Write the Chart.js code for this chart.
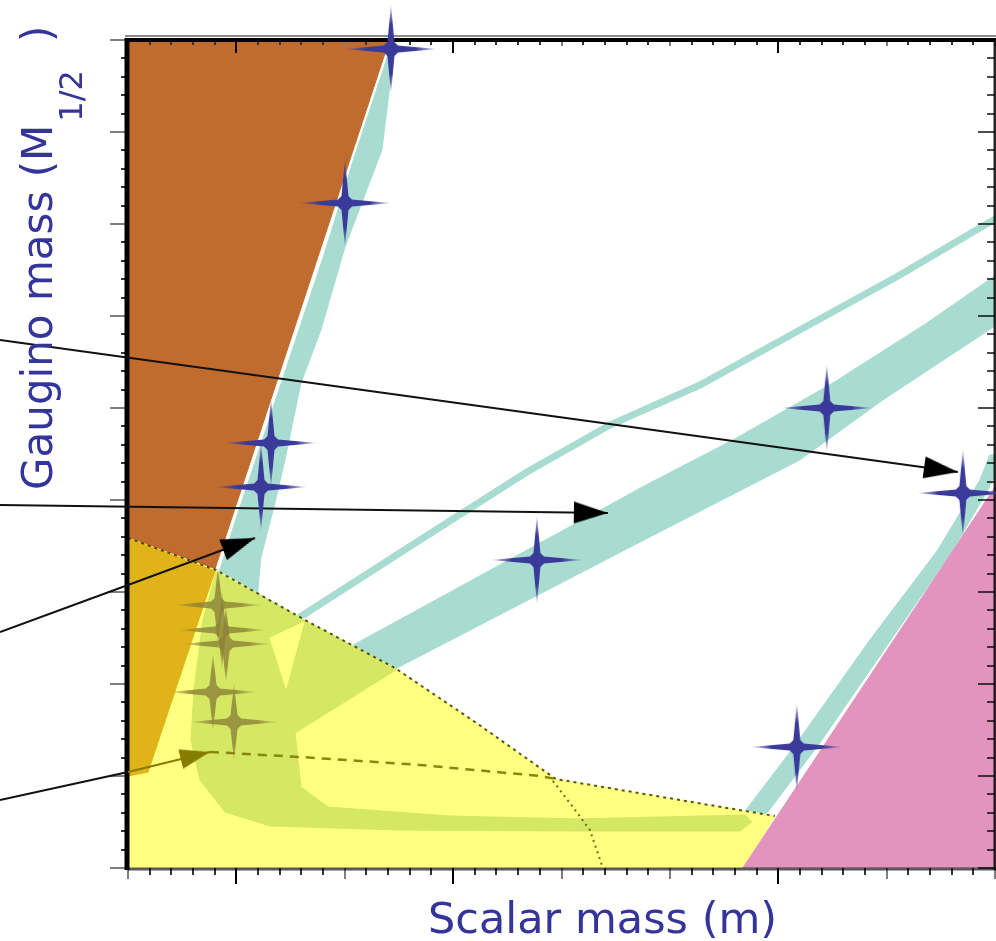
<!DOCTYPE html>
<html>
<head>
<meta charset="utf-8">
<script src="https://cdn.jsdelivr.net/npm/chart.js@4.4.1/dist/chart.umd.min.js"></script>
<style>
  html, body { margin: 0; padding: 0; background: #fff; }
  #wrap { position: relative; width: 996px; height: 941px; overflow: hidden; }
</style>
</head>
<body>
<div id="wrap"><canvas id="chart"></canvas></div>
<script>
// axis ranges (schematic plot, the axes carry no numbers)
var xRange = [0, 80];
var yRange = [0, 90];
var xLongTicks = [10, 30, 60];
var xTitle = 'Scalar mass (m)';
var yTitle = ['Gaugino mass (M', '1/2', ')'];

// regions, outlines as [x, y]
var brownRegion  = [[0, 91], [24.4, 91], [1.85, 10.43], [0, 10.0]];
var yellowRegion = [[0, 35.87], [8.12, 32.39], [16.33, 26.96], [24.63, 21.74], [32.29, 15.65],
                    [39.48, 9.67], [59.69, 5.65], [56.73, 0], [0, 0]];
var orangeRegion = [[0, 35.87], [8.03, 32.28], [1.85, 10.43], [0, 10.0]];
var pinkRegion   = [[56.73, 0], [81, 0], [81, 43.2]];
var greenRegion  = [[8.12, 32.17], [12.36, 29.57], [16.33, 26.85], [21.13, 23.9], [24.82, 21.6],
                    [15.41, 14.67], [15.96, 8.80], [18.45, 6.63], [29.70, 5.65], [41.51, 5.33],
                    [56.92, 5.76], [57.56, 5.0], [56.46, 4.02], [41.51, 4.02], [25.09, 4.13],
                    [13.10, 4.57], [8.95, 6.09], [6.64, 9.57], [5.81, 13.91], [6.09, 19.35], [6.92, 26.96]];
var yellowHole   = [[13.10, 25.0], [16.24, 26.74], [14.58, 19.57]];

// relic density strips
var tealStrip1 = [[24.54, 88.70], [23.43, 78.04], [20.02, 67.50], [17.80, 58.48], [15.96, 52.72],
                  [14.48, 44.35], [13.56, 39.67], [12.27, 33.80], [11.81, 28.04], [8.03, 30.76],
                  [9.87, 37.61], [11.72, 44.13], [14.39, 53.59], [18.08, 66.63], [20.85, 77.17], [24.08, 88.70]];
var tealLine2  = [[14.02, 25.87], [15.87, 27.28], [26.94, 35.65], [36.81, 43.04], [44.46, 48.15],
                  [52.77, 52.50], [61.99, 58.48], [71.22, 64.46], [79.06, 69.89], [81, 71.2]];
var tealStrip3 = [[18.63, 22.83], [21.13, 24.46], [48.15, 41.85], [55.81, 46.52], [65.04, 52.72],
                  [73.71, 59.24], [81, 65.2], [81, 59.7], [69.65, 50.87], [61.99, 44.35],
                  [48.15, 35.98], [24.82, 21.74], [22.32, 20.22]];
var tealStrip4 = [[56.46, 5.43], [61.71, 13.59], [68.45, 24.78], [74.72, 34.57], [78.60, 42.17],
                  [79.52, 44.89], [81, 44.89], [79.34, 41.09], [76.11, 34.57], [70.39, 24.78],
                  [63.84, 13.59], [59.04, 6.09], [57.56, 5.0]];

// contour lines
var boundaryLine = [[0, 35.87], [8.12, 32.39], [16.33, 26.96], [24.63, 21.74], [32.29, 15.65],
                    [39.48, 9.67], [59.69, 5.65]];
var dashedLine   = [[7.56, 12.61], [15.87, 12.07], [26.94, 11.20], [38.01, 10.0], [39.48, 9.67]];
var dottedCurve  = [[39.21, 9.46], [41.05, 6.63], [42.62, 4.13], [43.82, 0]];

// arrows (start outside the frame on the left)
var arrow1 = [[-11.81, 57.39], [76.57, 43.04]];
var arrow2 = [[-11.81, 39.46], [44.28, 38.59]];
var arrow3 = [[-11.81, 25.65], [0, 30.76], [11.72, 35.87]];
var arrow4 = [[-11.81, 7.39], [0, 10.43], [7.56, 12.61]];

// benchmark points
var blueStars  = [[24.26, 89.02], [20.02, 72.28], [13.19, 46.20], [12.27, 41.41], [37.73, 33.48],
                  [64.48, 50.0], [77.03, 40.76], [61.71, 13.15]];
var oliveStars = [[8.30, 28.59], [8.67, 25.87], [9.04, 24.35], [7.84, 19.13], [9.78, 15.87]];

var teal = '#a8dcd0';
var olive = '#857c00';
var titleColor = '#34349a';

function toXY(arr) { return arr.map(function (p) { return { x: p[0], y: p[1] }; }); }
function closed(arr) { return toXY(arr.concat([arr[0]])); }

function makeStar(rgb, hx, hy, a0, a1) {
  var c = document.createElement('canvas');
  c.width = 2 * hx + 4; c.height = 2 * hy + 4;
  var g = c.getContext('2d'), cx = c.width / 2, cy = c.height / 2;
  var gr = g.createRadialGradient(cx, cy, 0, cx, cy, Math.max(hx, hy));
  gr.addColorStop(0, 'rgba(' + rgb + ',' + a0 + ')');
  gr.addColorStop(0.55, 'rgba(' + rgb + ',' + a0 + ')');
  gr.addColorStop(1, 'rgba(' + rgb + ',' + a1 + ')');
  g.fillStyle = gr;
  g.beginPath();
  g.moveTo(cx - hx, cy);
  g.lineTo(cx - 7, cy - 3.5); g.lineTo(cx - 3.5, cy - 7);
  g.lineTo(cx, cy - hy);
  g.lineTo(cx + 3.5, cy - 7); g.lineTo(cx + 7, cy - 3.5);
  g.lineTo(cx + hx, cy);
  g.lineTo(cx + 7, cy + 3.5); g.lineTo(cx + 3.5, cy + 7);
  g.lineTo(cx, cy + hy);
  g.lineTo(cx - 3.5, cy + 7); g.lineTo(cx - 7, cy + 3.5);
  g.closePath();
  g.fill();
  return c;
}

function makeHead(color, len, wid) {
  var c = document.createElement('canvas');
  c.width = 2 * len; c.height = wid;
  var g = c.getContext('2d');
  g.fillStyle = color;
  g.beginPath();
  g.moveTo(0, 0); g.lineTo(len, wid / 2); g.lineTo(0, wid);
  g.closePath();
  g.fill();
  return c;
}

var blueStar = makeStar('58,58,154', 46, 44, 1, 0.15);
var oliveStar = makeStar('140,128,55', 44, 38, 0.8, 0.1);
var blackHead = makeHead('#000', 34, 22);
var oliveHead = makeHead(olive, 30, 20);

function headRadius(ctx) {
  return ctx.dataIndex === ctx.dataset.data.length - 1 ? 5 : 0;
}
function headAngle(ctx) {
  var d = ctx.dataset.data, i = ctx.dataIndex;
  if (ctx.type !== 'data' || i === 0) return 0;
  var xs = ctx.chart.scales.x, ys = ctx.chart.scales.y;
  var dx = xs.getPixelForValue(d[i].x) - xs.getPixelForValue(d[i - 1].x);
  var dy = ys.getPixelForValue(d[i].y) - ys.getPixelForValue(d[i - 1].y);
  return Math.atan2(dy, dx) * 180 / Math.PI;
}

function region(label, pts, color, order) {
  return { label: label, data: closed(pts), backgroundColor: color, borderColor: color,
           borderWidth: 1, fill: 'shape', pointRadius: 0, order: order, clip: 0 };
}
function line(label, pts, color, width, dash, order) {
  return { label: label, data: toXY(pts), borderColor: color, borderWidth: width,
           borderDash: dash, fill: false, pointRadius: 0, order: order, clip: 0 };
}
function arrow(label, pts, head) {
  return { label: label, data: toXY(pts), borderColor: '#111', borderWidth: 2, fill: false,
           pointStyle: head, pointRadius: headRadius, pointRotation: headAngle,
           order: 30, clip: false };
}

var datasets = [
  region('strip 1', tealStrip1, teal, 100),
  line('strip 2', tealLine2, teal, 7, [], 99),
  region('strip 3', tealStrip3, teal, 98),
  region('strip 4', tealStrip4, teal, 97),
  region('brown', brownRegion, '#c06c2e', 90),
  region('yellow', yellowRegion, '#ffff80', 80),
  region('overlap', orangeRegion, '#e0b418', 79),
  region('green', greenRegion, '#d4e864', 78),
  region('hole', yellowHole, '#ffff80', 77),
  region('pink', pinkRegion, '#e293be', 70),
  line('boundary', boundaryLine, 'rgba(55,55,20,0.85)', 2, [3, 4], 60),
  line('dashed', dashedLine, '#8c8410', 2.5, [9, 7], 59),
  line('dotted', dottedCurve, '#6d6a1a', 2, [2, 4], 58),
  arrow('arrow 1', arrow1, blackHead),
  arrow('arrow 2', arrow2, blackHead),
  arrow('arrow 3', arrow3, blackHead),
  arrow('arrow 4', arrow4, oliveHead),
  { label: 'olive points', data: toXY(oliveStars), showLine: false, fill: false,
    pointStyle: oliveStar, pointRadius: 6, order: 20, clip: false },
  { label: 'blue points', data: toXY(blueStars), showLine: false, fill: false,
    pointStyle: blueStar, pointRadius: 6, order: 10, clip: false }
];
datasets[12].frameAfter = true;
datasets[16].segment = { borderColor: function (c) { return c.p0DataIndex === 0 ? '#111' : olive; } };

function tickValues(scale) {
  if (scale.ticks && scale.ticks.length > 2) return scale.ticks.map(function (t) { return Math.round(t.value); });
  var v = [];
  for (var i = scale.min; i <= scale.max; i++) v.push(i);
  return v;
}

function drawFrame(chart) {
  var ctx = chart.ctx, a = chart.chartArea, xs = chart.scales.x, ys = chart.scales.y;
  ctx.save();
  ctx.lineWidth = 2;
  tickValues(xs).forEach(function (v) {
    var px = Math.round(xs.getPixelForValue(v));
    var isLong = xLongTicks.indexOf(v) >= 0, isMid = v % 5 === 0;
    ctx.strokeStyle = isLong ? '#000' : (isMid || v % 2 ? '#7d7d7d' : '#333');
    ctx.beginPath();
    ctx.moveTo(px, a.bottom); ctx.lineTo(px, a.bottom + (isLong ? 16 : isMid ? 11 : 7));
    ctx.moveTo(px, a.top); ctx.lineTo(px, a.top + (isLong ? 13 : isMid ? 6 : 5));
    ctx.stroke();
  });
  tickValues(ys).forEach(function (v) {
    var py = Math.round(ys.getPixelForValue(v));
    var isLong = v % 10 === 0, isMid = v % 5 === 0;
    ctx.strokeStyle = isLong ? '#808080' : (isMid ? '#222' : (v % 2 ? '#888' : '#333'));
    ctx.beginPath();
    ctx.moveTo(a.left - 2, py); ctx.lineTo(a.left - (isLong ? 18 : isMid ? 11 : 7), py);
    ctx.stroke();
    ctx.strokeStyle = 'rgba(0,0,0,0.7)';
    ctx.beginPath();
    ctx.moveTo(a.right, py); ctx.lineTo(a.right - (isLong ? 17 : 8), py);
    ctx.stroke();
  });
  ctx.strokeStyle = '#8a8a8a'; ctx.lineWidth = 2;
  ctx.beginPath(); ctx.moveTo(a.left - 3, a.top - 4); ctx.lineTo(a.right + 2, a.top - 4); ctx.stroke();
  ctx.strokeStyle = '#000'; ctx.lineWidth = 4;
  ctx.beginPath(); ctx.moveTo(a.left - 3, a.top); ctx.lineTo(a.right + 2, a.top); ctx.stroke();
  ctx.lineWidth = 5;
  ctx.beginPath(); ctx.moveTo(a.left - 1, a.top - 2); ctx.lineTo(a.left - 1, a.bottom + 2); ctx.stroke();
  ctx.strokeStyle = 'rgba(0,0,0,0.65)'; ctx.lineWidth = 3;
  ctx.beginPath(); ctx.moveTo(a.left, a.bottom + 1); ctx.lineTo(a.right + 2, a.bottom + 1); ctx.stroke();
  ctx.strokeStyle = 'rgba(0,0,0,0.85)';
  ctx.beginPath(); ctx.moveTo(a.right, a.top); ctx.lineTo(a.right, a.bottom + 2); ctx.stroke();
  ctx.restore();
}

function drawTitles(chart) {
  var ctx = chart.ctx;
  ctx.save();
  ctx.fillStyle = titleColor;
  ctx.textBaseline = 'alphabetic';
  ctx.textAlign = 'left';
  ctx.font = '43px "DejaVu Sans"';
  ctx.fillText(xTitle, 428, 933);
  // rotated title, reads upwards from the bottom
  ctx.translate(52, 490);
  ctx.rotate(-Math.PI / 2);
  ctx.font = '42px "DejaVu Sans"';
  ctx.fillText(yTitle[0], 0, 0);
  var w = ctx.measureText(yTitle[0]).width;
  ctx.font = '32px "DejaVu Sans"';
  ctx.fillText(yTitle[1], w + 3, 30);
  ctx.font = '42px "DejaVu Sans"';
  ctx.fillText(yTitle[2], 448, 0);
  ctx.restore();
}

var framePlugin = {
  id: 'frame',
  afterDatasetDraw: function (chart, args) {
    if (chart.data.datasets[args.index].frameAfter) drawFrame(chart);
  },
  afterDraw: drawTitles
};

new Chart(document.getElementById('chart'), {
  type: 'line',
  data: { datasets: datasets },
  plugins: [framePlugin],
  options: {
    responsive: true,
    maintainAspectRatio: false,
    animation: false,
    events: [],
    layout: { autoPadding: false, padding: { left: 128, top: 40, right: 1, bottom: 73 } },
    elements: { line: { tension: 0 }, point: { radius: 0 } },
    scales: {
      x: { type: 'linear', display: false, min: xRange[0], max: xRange[1], ticks: { count: 81 } },
      y: { type: 'linear', display: false, min: yRange[0], max: yRange[1], ticks: { count: 91 } }
    },
    plugins: {
      legend: { display: false },
      tooltip: { enabled: false },
      colors: { enabled: false }
    }
  }
});
</script>
</body>
</html>
